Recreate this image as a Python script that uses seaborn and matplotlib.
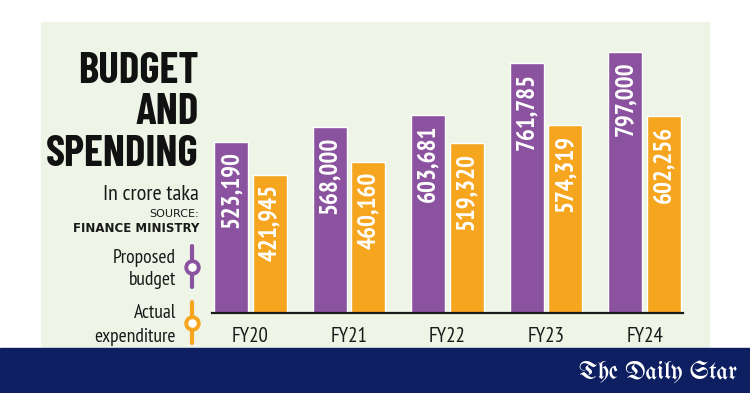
import matplotlib
matplotlib.use("Agg")
import matplotlib.pyplot as plt
from matplotlib.patches import Rectangle
from matplotlib.lines import Line2D
import seaborn as sns
import pandas as pd

# data
years = ["FY20", "FY21", "FY22", "FY23", "FY24"]
proposed = [523190, 568000, 603681, 761785, 797000]
actual = [421945, 460160, 519320, 574319, 602256]
series = ["Proposed budget", "Actual expenditure"]

PURPLE = "#8b52a0"
ORANGE = "#f6a51e"
GREEN_BG = "#eef5e6"
NAVY = "#0d1f60"
INK = "#1a1a1a"

df = pd.DataFrame({
    "year": years * 2,
    "value": proposed + actual,
    "series": [series[0]] * len(years) + [series[1]] * len(years),
})

sns.set_theme(style="white")
NARROW = ["PT Sans Narrow", "DejaVu Sans"]
TITLE = ["Barlow Condensed", "Fira Sans Extra Condensed", "PT Sans Narrow", "DejaVu Sans"]
plt.rcParams["font.family"] = NARROW

W, H = 750, 393
fig = plt.figure(figsize=(7.5, 3.93), dpi=100)
fig.patch.set_facecolor("white")


def fx(x):
    return x / W


def fy(y):
    return 1 - y / H


# background panels
fig.add_artist(Rectangle((fx(41), fy(349)), fx(709) - fx(41), fy(22) - fy(349),
                         transform=fig.transFigure, color=GREEN_BG, zorder=0))
fig.add_artist(Rectangle((0, 0), 1, fy(348), transform=fig.transFigure,
                         color=NAVY, zorder=0))

# axes: baseline at y=313 px, from x=212 to 683 px
px_per_unit = 3.276e-4
ax = fig.add_axes([fx(212), fy(313), fx(683) - fx(212), (313 - 22) / H])
ax.set_facecolor("none")
sns.barplot(data=df, x="year", y="value", hue="series", palette=[PURPLE, ORANGE],
            width=0.78, gap=0.12, saturation=1, legend=False, ax=ax)
ax.set_xlim(-0.39, 4.39)
ax.set_ylim(0, (313 - 22) / px_per_unit)

for container, vals in zip(ax.containers, [proposed, actual]):
    for bar, v in zip(container, vals):
        ax.annotate(f"{v:,}", (bar.get_x() + bar.get_width() / 2, bar.get_height()),
                    xytext=(0, -7), textcoords="offset points", ha="center", va="top",
                    rotation=90, color="white", fontsize=18, fontweight="bold")

for s in ["top", "left", "right"]:
    ax.spines[s].set_visible(False)
ax.spines["bottom"].set_linewidth(1.6)
ax.spines["bottom"].set_color(INK)
ax.set_yticks([])
ax.set_xlabel("")
ax.set_ylabel("")
ax.set_xticks(range(len(years)))
ax.set_xticklabels(years, fontsize=15, color=INK)
ax.tick_params(axis="x", which="major", length=0, pad=10)
ax.set_xticks([i + 0.5 for i in range(len(years) - 1)], minor=True)
ax.tick_params(axis="x", which="minor", length=10, width=1, color="#555555", direction="out")

# title block
title_kw = dict(ha="right", va="baseline", fontsize=31, fontweight="bold", color="#111111",
                family=TITLE)
fig.text(fx(199), fy(83), "BUDGET", **title_kw)
fig.text(fx(199), fy(124), "AND", **title_kw)
fig.text(fx(199), fy(166), "SPENDING", **title_kw)
fig.text(fx(199), fy(200), "In crore taka", ha="right", va="baseline", fontsize=16, color=INK)
fig.text(fx(199), fy(217), "SOURCE:", ha="right", va="baseline", fontsize=8,
         color=INK, family="DejaVu Sans")
fig.text(fx(199), fy(232), "FINANCE MINISTRY", ha="right", va="baseline", fontsize=8.5,
         fontweight="bold", color=INK, family="DejaVu Sans")

# legend
leg_kw = dict(ha="right", va="baseline", fontsize=14, color=INK)
fig.text(fx(176), fy(263), "Proposed", **leg_kw)
fig.text(fx(176), fy(285), "budget", **leg_kw)
fig.text(fx(176), fy(318), "Actual", **leg_kw)
fig.text(fx(176), fy(342), "expenditure", **leg_kw)
for col, y0, y1, yc in [(PURPLE, 246, 287, 267), (ORANGE, 302, 343, 323)]:
    fig.add_artist(Line2D([fx(192), fx(192)], [fy(y0), fy(y1)], transform=fig.transFigure,
                          color=col, lw=3))
    fig.add_artist(Line2D([fx(192)], [fy(yc)], transform=fig.transFigure, marker="o",
                          markersize=9, markerfacecolor="white", markeredgecolor=col,
                          markeredgewidth=2.8, linestyle="none"))

# masthead
fig.text(fx(737), fy(372), "The Daily Star", ha="right", va="center", fontsize=18,
         color="white", family=["UnifrakturMaguntia", "DejaVu Serif"])

fig.savefig("out.png", dpi=100, facecolor=fig.get_facecolor())
